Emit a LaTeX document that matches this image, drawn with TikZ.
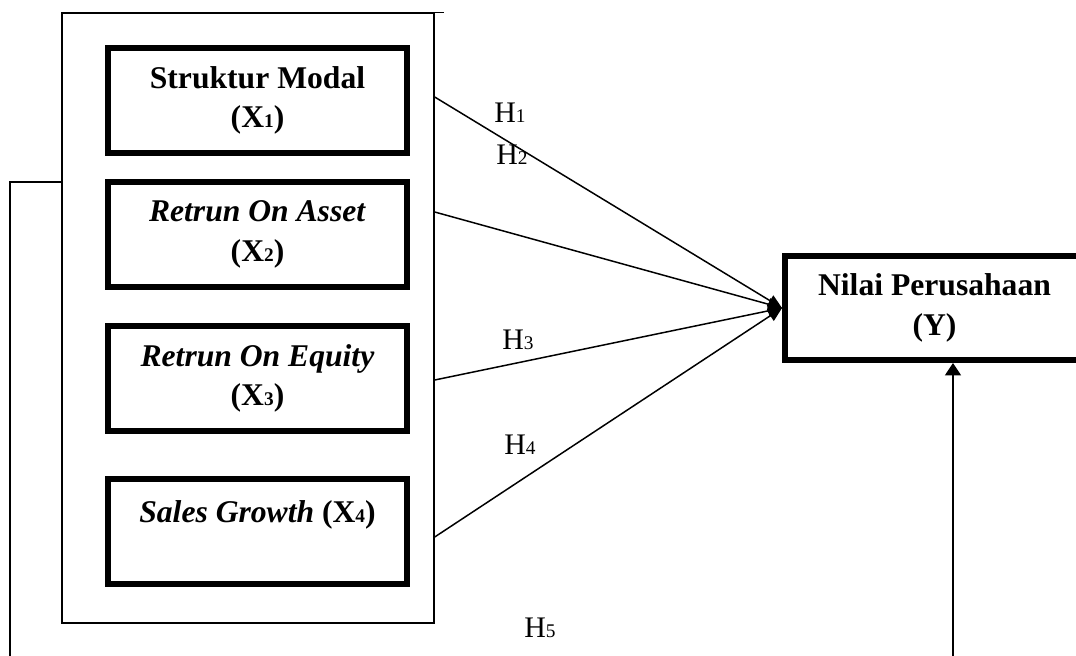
\documentclass[tikz,border=0pt]{standalone}
\usepackage{fontspec}
\setmainfont{Liberation Serif}
\usetikzlibrary{positioning,arrows.meta}

\newcommand{\subidx}[1]{{\fontsize{11}{11}\selectfont #1}}

\begin{document}
\begin{tikzpicture}[x=0.02cm, y=-0.02cm,
    varbox/.style={draw, line width=3.4pt, minimum width=5.98cm,
      minimum height=2.1cm, inner sep=0pt, align=center,
      font=\fontsize{18}{22.5}\selectfont\bfseries},
    frame/.style={draw, line width=0.85pt, minimum width=7.44cm,
      minimum height=12.2cm, inner sep=0pt},
    hyp/.style={line width=0.85pt, -{Triangle[length=8pt, width=7pt]}},
    hlabel/.style={font=\fontsize{17}{17}\selectfont}]

  \useasboundingbox (0,0) rectangle (1076,656);

  % Nodes:
  \node[frame] (frame) at (248,318) {};
  \node[varbox] (x1) at (257.5,100.5) {Struktur Modal\\(X\subidx{1})};
  \node[varbox, below=0.46cm of x1] (x2) {\textit{Retrun On Asset}\\(X\subidx{2})};
  \node[varbox, below=0.66cm of x2] (x3) {\textit{Retrun On Equity}\\(X\subidx{3})};
  \node[varbox, below=0.84cm of x3] (x4) {\textit{Sales Growth} (X\subidx{4})\\ \mbox{}};
  \node[varbox, minimum height=2.08cm] (y) at (934.5,308) {Nilai Perusahaan\\(Y)};

  % Labels:
  \node[hlabel] (h1) at (510,113) {H\subidx{1}};
  \node[hlabel] (h2) at (512,155) {H\subidx{2}};
  \node[hlabel] (h3) at (518,340) {H\subidx{3}};
  \node[hlabel] (h4) at (520,445) {H\subidx{4}};
  \node[hlabel] (h5) at (540,628) {H\subidx{5}};

  % Connections:
  \draw[line width=0.85pt] (frame.north east) -- ++(9,0);
  \draw[hyp] (frame.east |- 0,97) -- (y.west);
  \draw[hyp] (frame.east |- 0,212) -- (y.west);
  \draw[hyp] (frame.east |- 0,380) -- (y.west);
  \draw[hyp] (frame.east |- 0,537) -- (y.west);
  \draw[hyp, -{Triangle[length=7pt, width=9pt]}]
    (frame.west |- 0,182) -- (10,182) -- (10,700) -| ([xshift=0.37cm]y.south);

\end{tikzpicture}
\end{document}
